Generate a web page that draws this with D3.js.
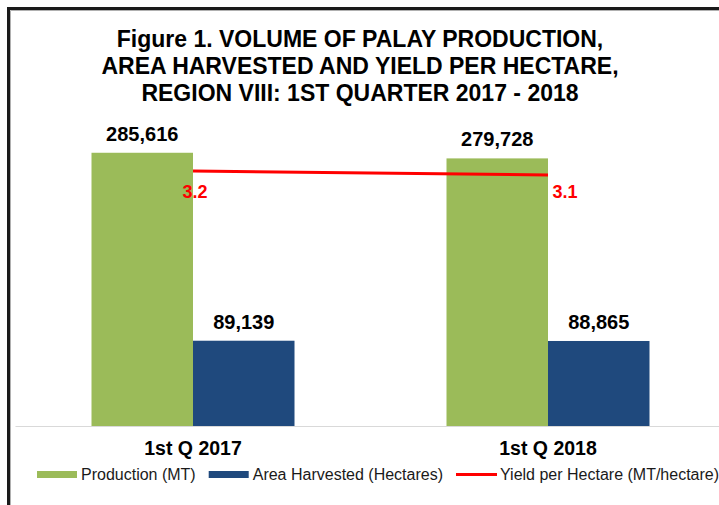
<!DOCTYPE html>
<html>
<head>
<meta charset="utf-8">
<script src="https://cdn.jsdelivr.net/npm/d3@7"></script>
<style>
  body { margin: 0; background: #fff; }
  svg { display: block; font-family: "Liberation Sans", Arial, sans-serif; }
</style>
</head>
<body>
<div id="chart"></div>
<script>
// chart data
const categories = ['1st Q 2017', '1st Q 2018'];
const production = [285616, 279728];
const areaHarvested = [89139, 88865];
const yieldPerHa = [3.2, 3.1];
const seriesNames = ['Production (MT)', 'Area Harvested (Hectares)', 'Yield per Hectare (MT/hectare)'];
const titleLines = [
  'Figure 1. VOLUME OF PALAY PRODUCTION,',
  'AREA HARVESTED AND YIELD PER HECTARE,',
  'REGION VIII: 1ST QUARTER 2017 - 2018'
];

const width = 719, height = 505;
const colors = { prod: '#9bbb59', area: '#1f497d', yield: '#ff0000' };

const svg = d3.select('#chart').append('svg')
  .attr('width', width)
  .attr('height', height);

// frame (runs off right and bottom)
svg.append('rect')
  .attr('x', 8.5).attr('y', 8.5)
  .attr('width', 800).attr('height', 600)
  .attr('fill', 'none')
  .attr('stroke', '#1a1a1a')
  .attr('stroke-width', 3);
svg.append('path')
  .attr('d', 'M10.5,800V10.5H800')
  .attr('fill', 'none')
  .attr('stroke', '#b0b0b0')
  .attr('stroke-width', 1);

// title
svg.append('text')
  .attr('x', 360)
  .attr('y', 47)
  .attr('text-anchor', 'middle')
  .attr('font-size', 23)
  .attr('font-weight', 'bold')
  .attr('fill', '#000')
  .selectAll('tspan')
  .data(titleLines)
  .join('tspan')
  .attr('x', 360)
  .attr('dy', (d, i) => i === 0 ? 0 : 27)
  .text(d => d);

// scales
const x0 = d3.scaleBand()
  .domain(categories)
  .range([15.5, 725.5])
  .padding(0);

const x1 = d3.scaleBand()
  .domain(['prod', 'area'])
  .range([76, x0.bandwidth() - 76]);

const y = d3.scaleLinear()
  .domain([0, 300000])
  .range([426, 139]);

// secondary axis (hidden) for yield
const y2 = d3.scaleLinear()
  .domain([3.1, 3.2])
  .range([175, 171]);

// baseline
svg.append('line')
  .attr('x1', 15.5).attr('x2', width)
  .attr('y1', 426.5).attr('y2', 426.5)
  .attr('stroke', '#d9d9d9')
  .attr('stroke-width', 1);

const rows = categories.map((c, i) => ({
  cat: c,
  bars: [
    { key: 'prod', value: production[i] },
    { key: 'area', value: areaHarvested[i] }
  ]
}));

const groups = svg.append('g').selectAll('g')
  .data(rows)
  .join('g')
  .attr('transform', d => `translate(${x0(d.cat)},0)`);

groups.selectAll('rect')
  .data(d => d.bars)
  .join('rect')
  .attr('x', d => x1(d.key))
  .attr('y', d => y(d.value))
  .attr('width', x1.bandwidth())
  .attr('height', d => y(0) - y(d.value))
  .attr('fill', d => colors[d.key]);

const fmt = d3.format(',');
groups.selectAll('text.val')
  .data(d => d.bars)
  .join('text')
  .attr('class', 'val')
  .attr('x', d => x1(d.key) + x1.bandwidth() / 2)
  .attr('y', d => y(d.value) - 12)
  .attr('text-anchor', 'middle')
  .attr('font-size', 20)
  .attr('font-weight', 'bold')
  .attr('fill', '#000')
  .text(d => fmt(d.value));

// x axis labels
const xAxis = d3.axisBottom(x0).tickSize(0).tickPadding(0);
const xg = svg.append('g')
  .attr('transform', 'translate(0,441)')
  .call(xAxis);
xg.select('.domain').remove();
xg.selectAll('text')
  .attr('font-size', 19.5)
  .attr('font-weight', 'bold')
  .attr('font-family', '"Liberation Sans", Arial, sans-serif')
  .attr('fill', '#000')
  .attr('dy', '0.72em');

// yield line
const cx = d => x0(d) + x0.bandwidth() / 2;
const line = d3.line()
  .x((d, i) => cx(categories[i]))
  .y(d => y2(d));

svg.append('path')
  .datum(yieldPerHa)
  .attr('d', line)
  .attr('fill', 'none')
  .attr('stroke', colors.yield)
  .attr('stroke-width', 3);

const yieldLabelOffset = [[2, 27], [17, 23]];
svg.selectAll('text.yl')
  .data(yieldPerHa)
  .join('text')
  .attr('class', 'yl')
  .attr('x', (d, i) => cx(categories[i]) + yieldLabelOffset[i][0])
  .attr('y', (d, i) => y2(d) + yieldLabelOffset[i][1])
  .attr('text-anchor', 'middle')
  .attr('font-size', 18)
  .attr('font-weight', 'bold')
  .attr('fill', colors.yield)
  .text(d => d3.format('.1f')(d));

// legend
const legend = svg.append('g').attr('transform', 'translate(37,474)');
let lx = 0;
const legendKeys = ['prod', 'area', 'yield'];
seriesNames.forEach((name, i) => {
  const key = legendKeys[i];
  if (key === 'yield') {
    legend.append('line')
      .attr('x1', lx).attr('x2', lx + 41)
      .attr('y1', 0.5).attr('y2', 0.5)
      .attr('stroke', colors.yield)
      .attr('stroke-width', 3);
  } else {
    legend.append('rect')
      .attr('x', lx).attr('y', -3)
      .attr('width', 40).attr('height', 7)
      .attr('fill', colors[key]);
  }
  lx += 44;
  const t = legend.append('text')
    .attr('x', lx)
    .attr('y', 5.5)
    .attr('font-size', 16)
    .attr('fill', '#1a1a1a')
    .text(name);
  lx += t.node().getComputedTextLength() + 13;
});
</script>
</body>
</html>
